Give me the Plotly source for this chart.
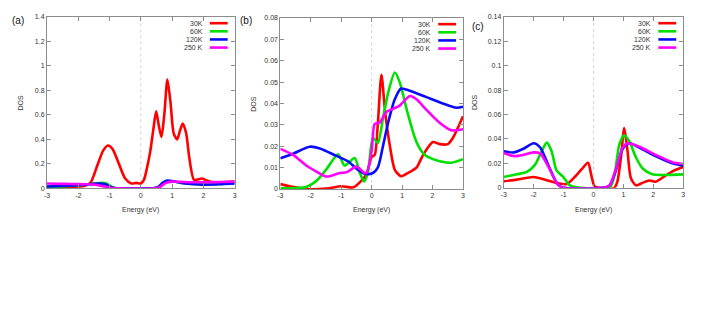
"""DOS vs energy at four temperatures, three panels (a)-(c), gnuplot-style look."""

import plotly.graph_objects as go
from plotly.subplots import make_subplots

W, H = 707, 334

TEMPS = ["30K", "60K", "120K", "250 K"]
COLORS = ["#ff0000", "#00e000", "#0a0aff", "#ff00ff"]
X_TICKS = [-3, -2, -1, 0, 1, 2, 3]

# ---- panel (a) ----
a_x_30 = [-3, -2.5, -2.0, -1.8, -1.6, -1.4, -1.2, -1.05, -0.9, -0.7, -0.5, -0.3, -0.15, 0.0,
          0.1, 0.2, 0.3, 0.4, 0.49, 0.57, 0.66, 0.75, 0.85, 0.95, 1.05, 1.16, 1.25, 1.34,
          1.45, 1.55, 1.7, 1.85, 1.95, 2.1, 2.3, 2.6, 3.0]
a_y_30 = [0.01, 0.01, 0.015, 0.02, 0.05, 0.18, 0.31, 0.35, 0.32, 0.2, 0.08, 0.04, 0.045, 0.04,
          0.07, 0.17, 0.3, 0.48, 0.63, 0.52, 0.42, 0.6, 0.89, 0.7, 0.45, 0.40, 0.47, 0.53,
          0.45, 0.25, 0.07, 0.075, 0.08, 0.065, 0.05, 0.05, 0.055]
a_x_60 = [-3, -2.5, -2, -1.6, -1.25, -1.1, -0.95, -0.8, -0.6, 0.4, 0.55, 0.7, 0.85, 1.0, 1.3,
          1.7, 2.0, 2.5, 3.0]
a_y_60 = [0.01, 0.015, 0.025, 0.035, 0.045, 0.04, 0.015, 0.002, 0, 0, 0.01, 0.045, 0.06, 0.058,
          0.045, 0.035, 0.032, 0.035, 0.042]
a_x_120 = [-3, -2.5, -2, -1.6, -1.35, -1.15, -1.0, -0.85, -0.6, 0.4, 0.55, 0.7, 0.85, 1.0, 1.3,
           1.7, 2.0, 2.5, 3.0]
a_y_120 = [0.015, 0.02, 0.025, 0.035, 0.04, 0.035, 0.015, 0.003, 0, 0, 0.01, 0.045, 0.063, 0.06,
           0.045, 0.033, 0.03, 0.033, 0.04]
a_x_250 = [-3, -2.7, -2.2, -1.7, -1.4, -1.15, -0.95, -0.7, 0.45, 0.6, 0.8, 1.0, 1.3, 1.7, 2.2,
           2.6, 3.0]
a_y_250 = [0.04, 0.038, 0.035, 0.033, 0.028, 0.015, 0.003, 0, 0, 0.01, 0.045, 0.055, 0.053,
           0.05, 0.05, 0.052, 0.055]

# ---- panel (b) ----
b_x_30 = [-3, -2.6, -2.15, -1.5, -1.0, -0.6, -0.4, -0.17, 0.0, 0.1, 0.2, 0.32, 0.45, 0.6, 0.76,
          0.97, 1.25, 1.47, 1.69, 2.01, 2.23, 2.5, 2.67, 3.0]
b_y_30 = [0.0023, 0.001, 0.0, 0.0002, 0.0013, 0.0008, 0.003, 0.007, 0.015, 0.016, 0.03, 0.0534,
          0.035, 0.02, 0.009, 0.006, 0.008, 0.01, 0.016, 0.022, 0.021, 0.021, 0.024, 0.034]
b_x_60 = [-3, -2.5, -2.15, -1.8, -1.5, -1.1, -0.89, -0.56, -0.4, -0.25, -0.12, 0.04, 0.2, 0.37,
          0.54, 0.76, 0.92, 1.19, 1.47, 1.74, 2.01, 2.4, 2.62, 3.0]
b_y_60 = [0.0003, 0.0005, 0.001, 0.004, 0.009, 0.0163, 0.011, 0.0145, 0.008, 0.0035, 0.008,
          0.024, 0.0215, 0.033, 0.045, 0.0545, 0.05, 0.035, 0.022, 0.016, 0.014, 0.0125, 0.0123,
          0.014]
b_x_120 = [-3, -2.58, -2.04, -1.7, -1.16, -0.78, -0.45, -0.17, 0.04, 0.2, 0.37, 0.54, 0.76, 0.97,
           1.25, 1.8, 2.34, 2.78, 3.0]
b_y_120 = [0.0144, 0.0165, 0.0198, 0.019, 0.0155, 0.013, 0.009, 0.007, 0.0075, 0.01, 0.02,
           0.031, 0.042, 0.047, 0.046, 0.043, 0.04, 0.038, 0.0385]
b_x_250 = [-3, -2.58, -2.15, -1.8, -1.54, -1.38, -1.05, -0.83, -0.5, -0.28, -0.17, 0.0, 0.1,
           0.26, 0.48, 0.7, 0.92, 1.25, 1.47, 1.8, 2.23, 2.62, 3.0]
b_y_250 = [0.0188, 0.016, 0.011, 0.008, 0.006, 0.006, 0.0075, 0.0078, 0.0105, 0.008, 0.0075,
           0.018, 0.0305, 0.031, 0.036, 0.0375, 0.039, 0.0435, 0.042, 0.037, 0.031, 0.0275, 0.028]

# ---- panel (c) ----
c_x_30 = [-3, -2.56, -2.0, -1.67, -1.23, -0.9, -0.62, -0.4, -0.18, -0.07, 0.04, 0.2, 0.7, 0.8,
          0.92, 1.03, 1.14, 1.25, 1.42, 1.64, 1.86, 2.08, 2.41, 2.69, 3.0]
c_y_30 = [0.0053, 0.0067, 0.0088, 0.007, 0.004, 0.003, 0.009, 0.015, 0.0205, 0.01, 0.001, 0, 0,
          0.005, 0.025, 0.049, 0.03, 0.008, 0.002, 0.004, 0.006, 0.005, 0.01, 0.014, 0.017]
c_x_60 = [-3, -2.56, -2.23, -1.95, -1.73, -1.56, -1.4, -1.23, -1.01, -0.79, -0.57, 0.54, 0.7,
          0.87, 1.03, 1.2, 1.42, 1.64, 1.97, 2.41, 3.0]
c_y_60 = [0.0088, 0.011, 0.013, 0.019, 0.03, 0.037, 0.03, 0.014, 0.009, 0.002, 0.0003, 0, 0.01,
          0.036, 0.043, 0.038, 0.025, 0.016, 0.011, 0.0105, 0.011]
c_x_120 = [-3, -2.67, -2.34, -2.0, -1.78, -1.5, -1.23, -1.07, 0.3, 0.54, 0.76, 0.98, 1.2, 1.53,
           2.08, 2.64, 3.0]
c_y_120 = [0.030, 0.029, 0.032, 0.0365, 0.033, 0.018, 0.004, 0.0005, 0, 0.002, 0.015, 0.032,
           0.0365, 0.033, 0.026, 0.02, 0.018]
c_x_250 = [-3, -2.67, -2.34, -2.0, -1.78, -1.5, -1.23, -1.07, 0.3, 0.54, 0.76, 0.98, 1.15, 1.5,
           2.08, 2.64, 3.0]
c_y_250 = [0.0285, 0.026, 0.027, 0.029, 0.028, 0.017, 0.004, 0.0005, 0, 0.002, 0.016, 0.033,
           0.0365, 0.034, 0.027, 0.021, 0.0195]

PANELS = [
    ("(a)", [(a_x_30, a_y_30), (a_x_60, a_y_60), (a_x_120, a_y_120), (a_x_250, a_y_250)],
     1.4, 0.2, ["0", "0.2", "0.4", "0.6", "0.8", "1", "1.2", "1.4"]),
    ("(b)", [(b_x_30, b_y_30), (b_x_60, b_y_60), (b_x_120, b_y_120), (b_x_250, b_y_250)],
     0.08, 0.01, ["0", "0.01", "0.02", "0.03", "0.04", "0.05", "0.06", "0.07", "0.08"]),
    ("(c)", [(c_x_30, c_y_30), (c_x_60, c_y_60), (c_x_120, c_y_120), (c_x_250, c_y_250)],
     0.14, 0.02, ["0", "0.02", "0.04", "0.06", "0.08", "0.1", "0.12", "0.14"]),
]

# plot boxes in pixels: left, right, top, bottom
BOXES = [(44.3, 233.3, 13.3, 188.3), (279.3, 463.3, 14.3, 189.0), (504.3, 685.0, 13.3, 187.7)]
PANEL_LABEL_POS = [(15, 17), (245, 17), (478, 23)]
DOS_X = [18, 252, 475]


def px(x):
    return x / W


def py(y):
    return 1 - y / H


FONT = "Liberation Sans, Arial, sans-serif"
TXT = "#333333"
BORDER = "#8c8c8c"

fig = make_subplots(rows=1, cols=3)
shapes, annotations = [], []

for i, (label, series, ymax, ystep, ylabels) in enumerate(PANELS):
    col = i + 1
    for (xs, ys), name, color in zip(series, TEMPS, COLORS):
        fig.add_trace(
            go.Scatter(x=xs, y=ys, mode="lines", name=name, showlegend=False,
                       line=dict(color=color, width=2.6, shape="spline", smoothing=0.7)),
            row=1, col=col,
        )
    l, r, t, b = BOXES[i]
    axn = "" if i == 0 else str(col)
    fig.update_layout({
        f"xaxis{axn}": dict(
            domain=[px(l), px(r)], range=[-3, 3], tickvals=X_TICKS,
            ticktext=[str(v) for v in X_TICKS], ticks="inside", ticklen=4, tickcolor=BORDER,
            showline=True, linecolor=BORDER, linewidth=1, mirror="allticks", showgrid=False,
            zeroline=False, tickfont=dict(size=7, color=TXT, family=FONT), anchor=f"y{axn}",
        ),
        f"yaxis{axn}": dict(
            domain=[py(b), py(t)], range=[0, ymax],
            tickvals=[k * ystep for k in range(len(ylabels))], ticktext=ylabels,
            ticks="inside", ticklen=4, tickcolor=BORDER, showline=True, linecolor=BORDER,
            linewidth=1, mirror="allticks", showgrid=False, zeroline=False,
            tickfont=dict(size=7, color=TXT, family=FONT), anchor=f"x{axn}",
        ),
    })
    # dotted zero line
    shapes.append(dict(type="line", xref=f"x{axn}", yref=f"y{axn} domain", x0=0, x1=0, y0=0,
                       y1=1, line=dict(color="#c8c8c8", width=0.8, dash="dot"), layer="below"))
    # gnuplot-style key: label then line sample
    for k, (name, color) in enumerate(zip(TEMPS, COLORS)):
        yy = t + 6.3 + k * 8.3
        annotations.append(dict(text=name, x=px(r - 30), y=py(yy), xref="paper", yref="paper",
                                xanchor="right", yanchor="middle", showarrow=False,
                                font=dict(size=7, color=TXT, family=FONT)))
        shapes.append(dict(type="line", xref="paper", yref="paper", x0=px(r - 25), x1=px(r - 7),
                           y0=py(yy), y1=py(yy), line=dict(color=color, width=2.6)))
    # axis titles
    annotations.append(dict(text="Energy (eV)", x=px((l + r) / 2), y=py(210), xref="paper",
                            yref="paper", showarrow=False, xanchor="center", yanchor="middle",
                            font=dict(size=7, color=TXT, family=FONT)))
    annotations.append(dict(text="DOS", x=px(DOS_X[i]), y=py((t + b) / 2), xref="paper",
                            yref="paper", showarrow=False, textangle=-90, xanchor="center",
                            yanchor="middle", font=dict(size=7, color=TXT, family=FONT)))
    lx, ly = PANEL_LABEL_POS[i]
    annotations.append(dict(text=label, x=px(lx), y=py(ly), xref="paper", yref="paper",
                            showarrow=False, xanchor="center", yanchor="middle",
                            font=dict(size=10, color="#111111", family=FONT)))

fig.update_layout(
    width=W, height=H, margin=dict(l=0, r=0, t=0, b=0),
    paper_bgcolor="white", plot_bgcolor="white",
    shapes=shapes, annotations=annotations, showlegend=False,
)

# the page's default body margin would shift the figure by 8px
fig.write_html("out.html", config={"displayModeBar": False},
               post_script="document.body.style.margin = '0';")
